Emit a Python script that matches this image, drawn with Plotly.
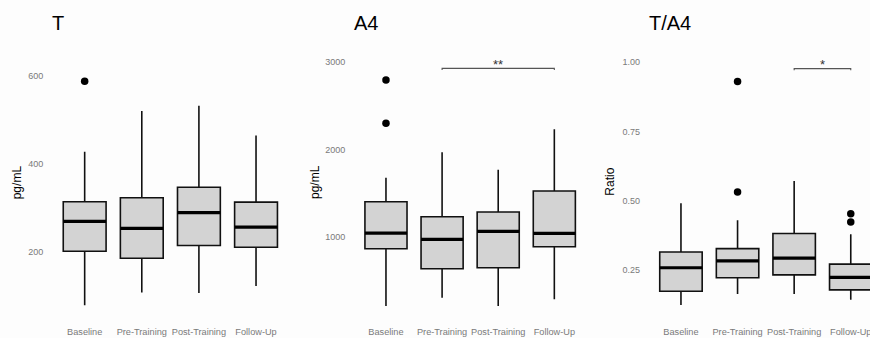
import plotly.graph_objects as go

# ---- data -------------------------------------------------------------
categories = ["Baseline", "Pre-Training", "Post-Training", "Follow-Up"]

t_lower = [78, 107, 106, 122]
t_q1 = [201, 185, 214, 210]
t_median = [269, 253, 289, 256]
t_q3 = [314, 323, 347, 313]
t_upper = [428, 521, 533, 465]
t_outlier_group = [0]
t_outlier_value = [589]

a4_lower = [215, 310, 215, 291]
a4_q1 = [870, 641, 653, 893]
a4_median = [1049, 977, 1069, 1046]
a4_q3 = [1407, 1235, 1289, 1529]
a4_upper = [1681, 1971, 1773, 2234]
a4_outlier_group = [0, 0]
a4_outlier_value = [2798, 2303]

ratio_lower = [0.122, 0.162, 0.162, 0.141]
ratio_q1 = [0.172, 0.221, 0.231, 0.177]
ratio_median = [0.257, 0.282, 0.292, 0.222]
ratio_q3 = [0.314, 0.326, 0.381, 0.270]
ratio_upper = [0.490, 0.429, 0.571, 0.378]
ratio_outlier_group = [1, 1, 3, 3]
ratio_outlier_value = [0.931, 0.531, 0.452, 0.422]

# significance brackets: (from group, to group, bar height, tip end, label)
a4_signif = [(1, 3, 2931, 2912, "**")]
ratio_signif = [(2, 3, 0.977, 0.971, "*")]

y_ticks_t = [200, 400, 600]
y_ticks_a4 = [1000, 2000, 3000]
y_ticks_ratio = [0.25, 0.50, 0.75, 1.00]

# ---- layout geometry --------------------------------------------------
W, H = 870, 338
BOX_W = 0.75
FONT = "Liberation Sans, Arial, sans-serif"
TICK_COLOR = "#7a7a7a"
EDGE = "#111111"
FILL = "#d3d3d3"
BG = "#fdfdfd"

plot_top, plot_bottom = 50, 318
ydom = [1 - plot_bottom / H, 1 - plot_top / H]

panels = [
    dict(title="T", ylabel="pg/mL", xdom=[50.4, 290.3], xrange=[-0.6, 3.6],
         yrange=[48.8, 660.0], yticks=y_ticks_t, fmt="",
         stats=(t_lower, t_q1, t_median, t_q3, t_upper),
         out=(t_outlier_group, t_outlier_value), signif=[],
         ylab_x=17.3),
    dict(title="A4", ylabel="pg/mL", xdom=[352.3, 588.0], xrange=[-0.6, 3.6],
         yrange=[78.0, 3140.6], yticks=y_ticks_a4, fmt="",
         stats=(a4_lower, a4_q1, a4_median, a4_q3, a4_upper),
         out=(a4_outlier_group, a4_outlier_value), signif=a4_signif,
         ylab_x=315.0),
    dict(title="T/A4", ylabel="Ratio", xdom=[647.0, 870.0], xrange=[-0.6, 3.34],
         yrange=[0.0752, 1.0445], yticks=y_ticks_ratio, fmt=".2f",
         stats=(ratio_lower, ratio_q1, ratio_median, ratio_q3, ratio_upper),
         out=(ratio_outlier_group, ratio_outlier_value), signif=ratio_signif,
         ylab_x=609.7),
]

fig = go.Figure()
annotations = []
positions = list(range(len(categories)))

for i, p in enumerate(panels, start=1):
    xa = "x" if i == 1 else f"x{i}"
    ya = "y" if i == 1 else f"y{i}"
    lower, q1, med, q3, upper = p["stats"]

    fig.add_trace(go.Box(
        x=positions, q1=q1, median=med, q3=q3,
        lowerfence=lower, upperfence=upper,
        width=BOX_W, whiskerwidth=0, boxpoints=False,
        fillcolor=FILL, line=dict(color=EDGE, width=1.6),
        xaxis=xa, yaxis=ya, showlegend=False, hoverinfo="skip",
    ))

    # thicker median bars on top of the boxes
    mx, my = [], []
    for pos, m in zip(positions, med):
        mx += [pos - BOX_W / 2, pos + BOX_W / 2, None]
        my += [m, m, None]
    fig.add_trace(go.Scatter(
        x=mx, y=my, mode="lines", line=dict(color="#000000", width=3.2),
        xaxis=xa, yaxis=ya, showlegend=False, hoverinfo="skip",
    ))

    og, ov = p["out"]
    fig.add_trace(go.Scatter(
        x=og, y=ov, mode="markers",
        marker=dict(color="#000000", size=7.5),
        xaxis=xa, yaxis=ya, showlegend=False, hoverinfo="skip",
    ))

    for g0, g1, bar, tip, label in p["signif"]:
        fig.add_trace(go.Scatter(
            x=[g0, g0, g1, g1], y=[tip, bar, bar, tip], mode="lines",
            line=dict(color="#555555", width=1.1),
            xaxis=xa, yaxis=ya, showlegend=False, hoverinfo="skip",
        ))
        annotations.append(dict(
            x=(g0 + g1) / 2, y=bar, xref=xa, yref=ya, text=label,
            showarrow=False, xanchor="center", yanchor="middle", yshift=4,
            font=dict(family=FONT, size=13, color="#333333"),
        ))

    axis_common = dict(showgrid=False, zeroline=False, showline=False, ticks="")
    fig.update_layout(**{
        ("xaxis" if i == 1 else f"xaxis{i}"): dict(
            domain=[p["xdom"][0] / W, p["xdom"][1] / W], range=p["xrange"],
            anchor=ya, tickvals=positions, ticktext=categories,
            tickfont=dict(family=FONT, size=9.2, color=TICK_COLOR),
            ticklabelstandoff=7, ticklabeloverflow="allow", **axis_common),
        ("yaxis" if i == 1 else f"yaxis{i}"): dict(
            domain=ydom, range=p["yrange"], anchor=xa,
            tickvals=p["yticks"], tickformat=p["fmt"],
            tickfont=dict(family=FONT, size=9, color=TICK_COLOR),
            ticklabelstandoff=6, **axis_common),
    })

    # panel title, left-aligned with the plotting area
    annotations.append(dict(
        x=p["xdom"][0] / W, y=1 - 23 / H, xref="paper", yref="paper",
        text=p["title"], showarrow=False, xanchor="left", yanchor="middle",
        font=dict(family=FONT, size=20, color="#000000"),
    ))
    # y-axis label
    annotations.append(dict(
        x=p["ylab_x"] / W, y=1 - 182 / H, xref="paper", yref="paper",
        text=p["ylabel"], showarrow=False, textangle=-90,
        xanchor="center", yanchor="middle",
        font=dict(family=FONT, size=12, color="#000000"),
    ))

fig.update_layout(
    width=W, height=H, margin=dict(l=0, r=0, t=0, b=0),
    paper_bgcolor=BG, plot_bgcolor=BG,
    annotations=annotations, showlegend=False,
)

fig.write_html("out.html", config={"displayModeBar": False})
